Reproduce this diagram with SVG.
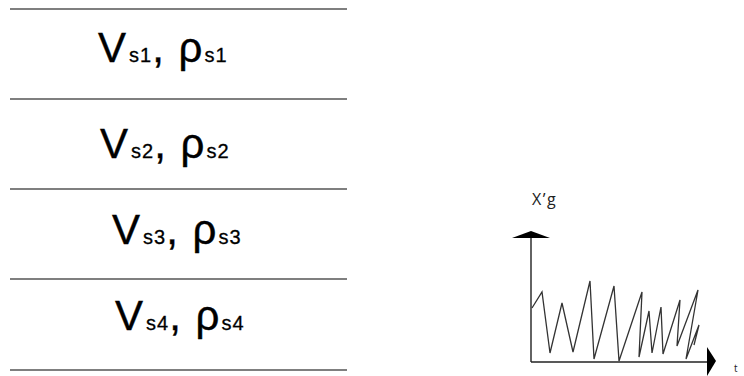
<svg xmlns="http://www.w3.org/2000/svg" width="744" height="376" viewBox="0 0 744 376">
<style>
.sep{stroke:#555;stroke-width:1.4;fill:none}
.lab{font-family:"Liberation Sans",Arial,sans-serif;font-size:42px;fill:#000;stroke:#000;stroke-width:0.4}
.sub{font-size:20px;letter-spacing:1px;stroke-width:0.3}
.ax{stroke:#222;stroke-width:1.4;fill:none}
.sig{stroke:#333;stroke-width:1.3;fill:none;stroke-linejoin:miter}
.sm{font-family:"Open Sans","Liberation Sans",sans-serif;font-size:16px;fill:#222;letter-spacing:1.5px}
</style>
<rect width="744" height="376" fill="#fff"/>
<g id="layers">
<line class="sep" x1="10" y1="9" x2="347" y2="9"/>
<line class="sep" x1="10" y1="99" x2="347" y2="99"/>
<line class="sep" x1="10" y1="189" x2="347" y2="189"/>
<line class="sep" x1="10" y1="279" x2="347" y2="279"/>
<line class="sep" x1="10" y1="370" x2="347" y2="370"/>
</g>
<g id="layer1"><text class="lab" x="98" y="62">V<tspan class="sub" dx="3">s1</tspan>, <tspan dx="3">ρ</tspan><tspan class="sub" dx="2">s1</tspan></text></g>
<g id="layer2"><text class="lab" x="100" y="158">V<tspan class="sub" dx="3">s2</tspan>, <tspan dx="3">ρ</tspan><tspan class="sub" dx="2">s2</tspan></text></g>
<g id="layer3"><text class="lab" x="112" y="244">V<tspan class="sub" dx="3">s3</tspan>, <tspan dx="3">ρ</tspan><tspan class="sub" dx="2">s3</tspan></text></g>
<g id="layer4"><text class="lab" x="115" y="330">V<tspan class="sub" dx="3">s4</tspan>, <tspan dx="3">ρ</tspan><tspan class="sub" dx="2">s4</tspan></text></g>
<g id="chart">
<text class="sm" x="532" y="205">X’g</text>
<line class="ax" x1="531" y1="236" x2="531" y2="362"/>
<polygon points="512,238 531,231 550,238" fill="#000"/>
<line class="ax" x1="531" y1="362" x2="709" y2="362"/>
<polygon points="707,347 716,361 707,376" fill="#000"/>
<text class="sm" x="734" y="372" style="font-size:10px;letter-spacing:0">t</text>
<polyline class="sig" points="532,308 542,292 550,353 562,303 573,352 590,281 594,359 614,286 619,361 642,292 639,357 649,311 652,353 661,307 663,354 680,300 677,346 698,290 686,359 699,325 694,345"/>
</g>
</svg>
